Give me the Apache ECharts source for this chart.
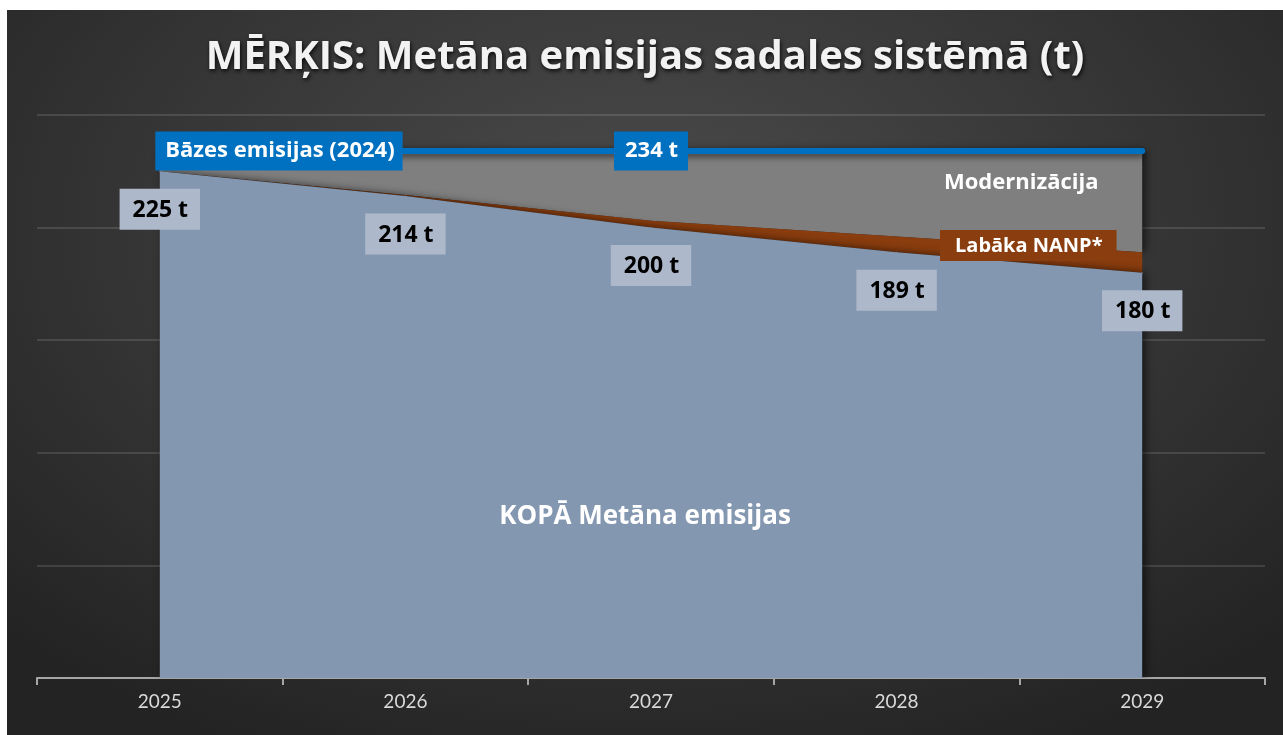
<!DOCTYPE html>
<html>
<head>
<meta charset="utf-8">
<script src="https://cdn.jsdelivr.net/npm/echarts@6/dist/echarts.min.js"></script>
<style>
  html, body { margin: 0; padding: 0; background: #fff; overflow: hidden; }
  #chart {
    position: absolute; left: 7px; top: 10px; width: 1276px; height: 725px;
    background: radial-gradient(ellipse 70% 80% at 50% 30%, #4b4b4b 0%, #363636 55%, #232323 100%);
  }
</style>
</head>
<body>
<div id="chart"></div>
<script>
const years = ['2025', '2026', '2027', '2028', '2029']
const totalEmissions = [225, 214, 200, 189, 180]
const betterNanp = [0, 0.5, 3, 7, 9]
const modernization = [9, 19.5, 31, 38, 45]
const baseline = [234, 234, 234, 234, 234]

const FONT = '"Open Sans", Lato, sans-serif'
const AXIS_FONT = 'Lato, "Open Sans", sans-serif'
const chart = echarts.init(document.getElementById('chart'))

const baseData = baseline.map((v, i) => {
  if (i === 0) {
    return {
      value: v,
      label: {
        show: true, position: 'right', distance: -5, formatter: 'Bāzes emisijas (2024)',
        backgroundColor: '#0070C0', color: '#fff', fontFamily: FONT, fontSize: 22, fontWeight: 'bold',
        padding: [9, 8, 8, 10]
      }
    }
  }
  if (i === 2) {
    return {
      value: v,
      label: {
        show: true, position: 'inside', formatter: '{c} t',
        backgroundColor: '#0070C0', color: '#fff', fontFamily: FONT, fontSize: 22, fontWeight: 'bold',
        padding: [9, 10, 8, 11]
      }
    }
  }
  return v
})

chart.setOption({
  backgroundColor: 'transparent',
  animation: false,
  title: {
    text: 'MĒRĶIS: Metāna emisijas sadales sistēmā (t)',
    left: 'center', top: 23,
    textStyle: {
      color: '#f2f2f2', fontFamily: FONT, fontSize: 40, fontWeight: 'bold',
      textShadowColor: 'rgba(0,0,0,0.85)', textShadowBlur: 4, textShadowOffsetX: 1, textShadowOffsetY: 2
    }
  },
  grid: { left: 30, right: 18, top: 105, bottom: 57 },
  xAxis: {
    type: 'category', data: years, boundaryGap: true,
    axisLine: { lineStyle: { color: '#a6a6a6', width: 2 } },
    axisTick: { show: true, length: 7, lineStyle: { color: '#a6a6a6', width: 2 } },
    axisLabel: { color: '#d9d9d9', fontFamily: AXIS_FONT, fontSize: 19, margin: 14 }
  },
  yAxis: {
    type: 'value', min: 0, max: 250, interval: 50,
    axisLine: { show: false }, axisTick: { show: false }, axisLabel: { show: false },
    splitLine: { lineStyle: { color: 'rgba(255,255,255,0.12)', width: 2 } }
  },
  series: [
    {
      name: 'KOPĀ Metāna emisijas', type: 'line', stack: 'a', data: totalEmissions,
      symbol: 'circle', symbolSize: 1, itemStyle: { color: '#8497B0' },
      lineStyle: { width: 0 },
      areaStyle: { color: '#8497B0', opacity: 1, shadowColor: 'rgba(0,0,0,0.6)', shadowBlur: 8, shadowOffsetX: 3 },
      label: {
        show: true, position: 'bottom', distance: 17, formatter: '{c} t',
        backgroundColor: '#ADB9CA', color: '#000', fontFamily: FONT, fontSize: 23, fontWeight: 'bold',
        padding: [10, 12, 8, 13]
      },
      z: 3
    },
    {
      name: 'Labāka NANP*', type: 'line', stack: 'a', data: betterNanp,
      symbol: 'none', lineStyle: { width: 0 },
      areaStyle: { color: '#8A3D0E', opacity: 1 },
      z: 2
    },
    {
      name: 'Modernizācija', type: 'line', stack: 'a', data: modernization,
      symbol: 'none', lineStyle: { width: 0 },
      areaStyle: { color: '#7F7F7F', opacity: 1, shadowColor: 'rgba(0,0,0,0.6)', shadowBlur: 8, shadowOffsetX: 3 },
      z: 1
    },
    {
      name: 'Bāzes emisijas (2024)', type: 'line', data: baseData,
      symbol: 'circle', symbolSize: 1, itemStyle: { color: '#0070C0' },
      lineStyle: { color: '#0070C0', width: 6, cap: 'round', shadowColor: 'rgba(0,0,0,0.55)', shadowBlur: 6, shadowOffsetY: 3 },
      z: 5
    }
  ],
  graphic: [
    {
      type: 'text', left: 'center', top: 494, z: 10,
      style: { text: 'KOPĀ Metāna emisijas', fill: '#fff', font: 'bold 26px ' + FONT }
    },
    {
      type: 'text', left: 937, top: 162, z: 10,
      style: { text: 'Modernizācija', fill: '#fff', font: 'bold 22px ' + FONT }
    },
    {
      type: 'text', left: 933, top: 220, z: 10,
      style: {
        text: 'Labāka NANP*', fill: '#fff', font: 'bold 20px ' + FONT,
        backgroundColor: '#8A3D0E', padding: [6, 14, 5, 15]
      }
    }
  ]
})
</script>
</body>
</html>
